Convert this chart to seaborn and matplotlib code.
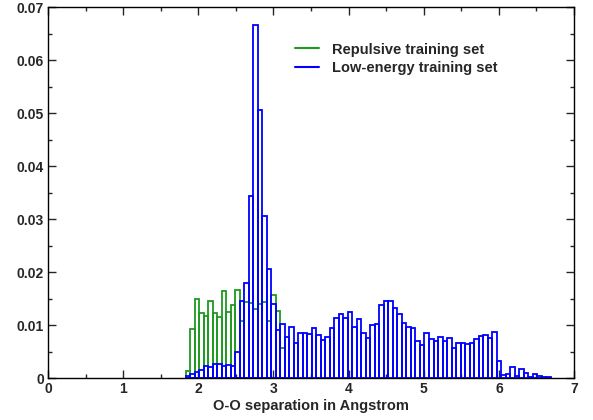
import matplotlib
matplotlib.use("Agg")

import matplotlib.pyplot as plt
import numpy as np
import pandas as pd
import seaborn as sns
from matplotlib.lines import Line2D
from matplotlib.ticker import FuncFormatter, MultipleLocator

# ── Style ────────────────────────────────────────────────────────────────────
sns.set_theme(style="ticks")
plt.rcParams["font.family"] = ["Liberation Sans", "DejaVu Sans"]
plt.rcParams["font.weight"] = "bold"

GREEN = "#1e9a1e"
BLUE = "#0000ff"

# ── Data (normalised histograms, bins of 0.06 Angstrom) ─────────────────────
BIN_WIDTH = 0.06
FIRST_CENTER = 1.86

repulsive = [
    0.0014, 0.0092, 0.0150, 0.0122, 0.0117, 0.0146, 0.0122, 0.0116, 0.0165,
    0.0125, 0.0138, 0.0166, 0.0108, 0.0144, 0.0142, 0.0131, 0.0140, 0.0143,
    0.0108, 0.0157, 0.0127, 0.0057,
]

low_energy = [
    0.0003, 0.0008, 0.0012, 0.0015, 0.0023, 0.0021, 0.0026, 0.0026, 0.0023,
    0.0024, 0.0023, 0.0050, 0.0146, 0.0179, 0.0343, 0.0666, 0.0506, 0.0306,
    0.0206, 0.0139, 0.0091, 0.0102, 0.0078, 0.0096, 0.0067, 0.0084, 0.0084,
    0.0083, 0.0094, 0.0081, 0.0072, 0.0078, 0.0094, 0.0113, 0.0121, 0.0113,
    0.0125, 0.0097, 0.0111, 0.0084, 0.0076, 0.0100, 0.0102, 0.0138, 0.0146,
    0.0146, 0.0133, 0.0121, 0.0104, 0.0096, 0.0094, 0.0070, 0.0062, 0.0084,
    0.0074, 0.0070, 0.0077, 0.0069, 0.0075, 0.0057, 0.0067, 0.0067, 0.0064,
    0.0067, 0.0073, 0.0079, 0.0081, 0.0075, 0.0087, 0.0032, 0.0006, 0.0007,
    0.0021, 0.0004, 0.0017, 0.0010, 0.0001, 0.0007, 0.0004, 0.0001, 0.0001,
]

labels = ["Repulsive training set", "Low-energy training set"]
x_ticks = [0, 1, 2, 3, 4, 5, 6, 7]
y_ticks = [0, 0.01, 0.02, 0.03, 0.04, 0.05, 0.06, 0.07]


def to_frame(values):
    centers = FIRST_CENTER + BIN_WIDTH * np.arange(len(values))
    return pd.DataFrame({"sep": centers, "p": values})


fig = plt.figure(figsize=(5.93, 4.20), dpi=100)
ax = fig.add_axes([0.081, 0.100, 0.887, 0.883])

for values, color in [(repulsive, GREEN), (low_energy, BLUE)]:
    lo = FIRST_CENTER - BIN_WIDTH / 2
    hi = lo + BIN_WIDTH * len(values)
    sns.histplot(
        data=to_frame(values), x="sep", weights="p",
        binwidth=BIN_WIDTH, binrange=(lo, hi), fill=False, element="bars",
        color=color, linewidth=1.3, ax=ax,
    )

ax.set_xlim(0, 7)
ax.set_ylim(0, 0.07)
ax.set_xticks(x_ticks)
ax.set_yticks(y_ticks)
ax.xaxis.set_minor_locator(MultipleLocator(0.5))
ax.yaxis.set_minor_locator(MultipleLocator(0.005))
ax.yaxis.set_major_formatter(FuncFormatter(lambda v, _: "0" if v == 0 else f"{v:.2f}"))
ax.tick_params(which="both", direction="in", top=True, right=True,
               labelsize=10, width=1.0, pad=3)
ax.tick_params(which="major", length=6)
ax.tick_params(which="minor", length=3)
for spine in ax.spines.values():
    spine.set_visible(True)
    spine.set_linewidth(1.0)
    spine.set_color("black")

ax.set_xlabel("O-O separation in Angstrom", fontsize=10.5, fontweight="bold", labelpad=2)
ax.set_ylabel("")

handles = [Line2D([], [], color=GREEN, lw=1.5), Line2D([], [], color=BLUE, lw=1.5)]
ax.legend(handles, labels, loc="upper left", bbox_to_anchor=(0.445, 0.94),
          frameon=False, handlelength=1.6, handletextpad=0.9,
          labelspacing=0.3, prop={"weight": "bold", "size": 10.5})

fig.savefig("out.png", dpi=100)
